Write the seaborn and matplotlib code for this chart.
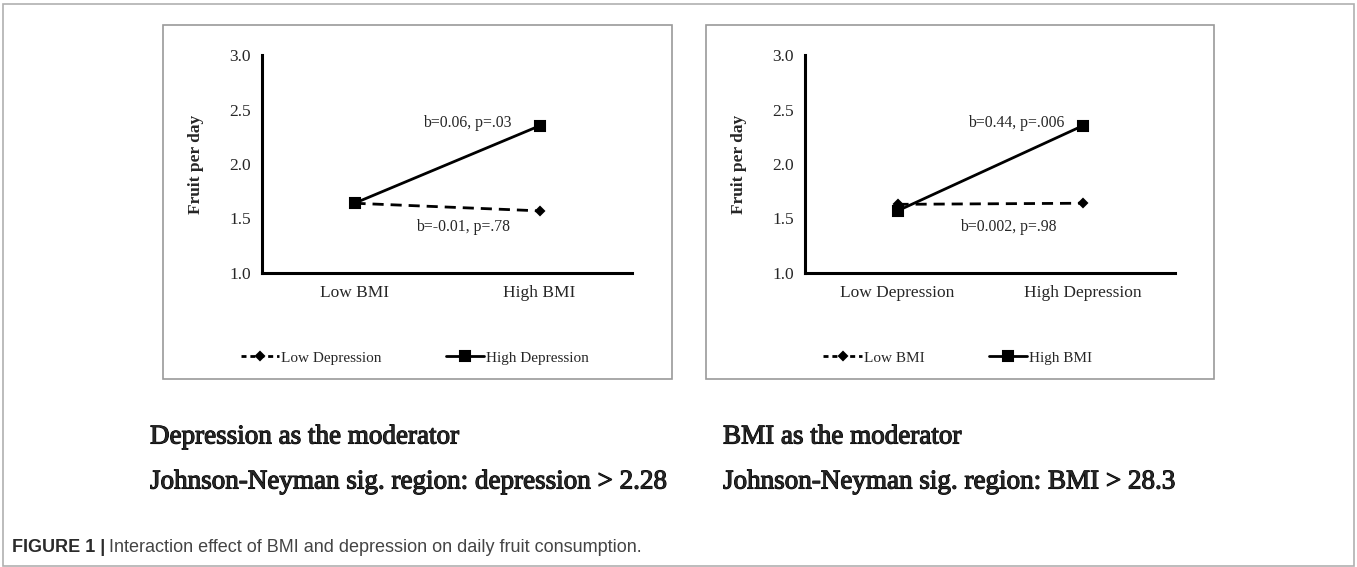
import matplotlib
matplotlib.use("Agg")
import matplotlib.pyplot as plt
import matplotlib.patches as mpatches
import matplotlib.patheffects as pe
import pandas as pd
import seaborn as sns

sns.set_style("white")
plt.rcParams["font.family"] = ["Liberation Serif", "DejaVu Serif"]

# --- values
bmi_levels = ["Low BMI", "High BMI"]
dep_levels = ["Low Depression", "High Depression"]

# left panel: x = BMI level, lines = depression level
fruit_low_dep = [1.64, 1.57]
fruit_high_dep = [1.64, 2.35]

# right panel: x = depression level, lines = BMI level
fruit_low_bmi = [1.63, 1.64]
fruit_high_bmi = [1.57, 2.35]

left_notes = ["b=0.06, p=.03", "b=-0.01, p=.78"]
right_notes = ["b=0.44, p=.006", "b=0.002, p=.98"]
yticks = [1.0, 1.5, 2.0, 2.5, 3.0]

left_df = pd.DataFrame({
    "x": bmi_levels * 2,
    "fruit": fruit_low_dep + fruit_high_dep,
    "line": [dep_levels[0]] * 2 + [dep_levels[1]] * 2,
})
right_df = pd.DataFrame({
    "x": dep_levels * 2,
    "fruit": fruit_low_bmi + fruit_high_bmi,
    "line": [bmi_levels[0]] * 2 + [bmi_levels[1]] * 2,
})

W, H = 1357, 567
fig = plt.figure(figsize=(W / 100, H / 100), dpi=100)


def px_rect(x0, y0, x1, y1):
    # pixel box (top-left origin) -> figure fraction [l, b, w, h]
    return [x0 / W, 1 - y1 / H, (x1 - x0) / W, (y1 - y0) / H]


# outer frame and the two chart frames
for x0, y0, x1, y1, col in [(3, 4, 1354, 566, "#b0b0b0"),
                            (163, 25, 672, 379, "#9a9a9a"),
                            (706, 25, 1214, 379, "#9a9a9a")]:
    l, b, w, h = px_rect(x0, y0, x1, y1)
    fig.patches.append(mpatches.Rectangle((l, b), w, h, transform=fig.transFigure,
                                          fill=False, edgecolor=col, linewidth=1.2))


def restyle(line, dashes=(4, 2.5)):
    # Excel-like marks: small diamonds, slightly bigger squares, long dashes
    if line.get_marker() == "D":
        line.set_markersize(4.5)
        line.set_dashes(dashes)
    elif line.get_marker() == "s":
        line.set_markersize(6.5)


def draw_panel(ax, df, x_order, hue_order, notes, note_pos, legend_x):
    sns.pointplot(data=df, x="x", y="fruit", hue="line", order=x_order,
                  hue_order=hue_order, palette=["black", "black"],
                  markers=["D", "s"], linestyles=["--", "-"],
                  errorbar=None, ax=ax, markersize=6, linewidth=2)
    for ln in ax.lines:
        restyle(ln)
    ax.set_xlim(-0.5, 1.5)
    ax.set_ylim(1.0, 3.0)
    ax.set_yticks(yticks)
    ax.set_yticklabels([f"{v:.1f}" for v in yticks], fontsize=12.5)
    ax.set_xticks([0, 1])
    ax.set_xticklabels(x_order, fontsize=12.5)
    ax.set_xticks([-0.5, 0.5, 1.5], minor=True)
    ax.tick_params(axis="x", which="major", length=0, pad=9)
    ax.tick_params(axis="x", which="minor", length=5, width=1.8,
                   direction="out", color="black")
    ax.tick_params(axis="y", length=5, width=1.8, direction="out",
                   color="black", pad=3)
    for side in ["top", "right"]:
        ax.spines[side].set_visible(False)
    for side in ["left", "bottom"]:
        ax.spines[side].set_color("black")
        ax.spines[side].set_linewidth(2.2)
    ax.set_xlabel("")
    ax.set_ylabel("Fruit per day", fontsize=12.5, fontweight="bold", labelpad=18)
    ax.patch.set_alpha(0)

    for txt, (tx, ty) in zip(notes, note_pos):
        ax.text(tx, ty, txt, ha="left", va="center", fontsize=11.3)

    handles, labels = ax.get_legend_handles_labels()
    ax.get_legend().remove()
    for h in handles:
        restyle(h, dashes=(1.8, 1.4))
    fig.legend(handles, labels, loc="center", ncol=2, frameon=False,
               bbox_to_anchor=(legend_x / W, 1 - 358 / H), fontsize=11,
               handlelength=2.5, handletextpad=0.15, columnspacing=4.2)


ax_l = fig.add_axes(px_rect(262, 55, 632, 273))
draw_panel(ax_l, left_df, bmi_levels, dep_levels, left_notes,
           [(0.37, 2.38), (0.33, 1.42)], 415)

ax_r = fig.add_axes(px_rect(805, 55, 1175, 273))
draw_panel(ax_r, right_df, dep_levels, bmi_levels, right_notes,
           [(0.38, 2.38), (0.34, 1.42)], 958)

# moderator notes under the panels (heavy Times look)
heavy = [pe.withStroke(linewidth=0.8, foreground="black")]
for x0, lines in [(150, ["Depression as the moderator",
                         "Johnson-Neyman sig. region: depression > 2.28"]),
                  (723, ["BMI as the moderator",
                         "Johnson-Neyman sig. region: BMI > 28.3"])]:
    for y0, txt in zip([437, 482], lines):
        fig.text(x0 / W, 1 - y0 / H, txt, fontsize=19.5, va="center",
                 path_effects=heavy)

# caption: bold "FIGURE 1 |" followed by regular text
cap = fig.text(12 / W, 1 - 548 / H, "FIGURE 1 |", fontsize=13,
               fontweight="bold", family="Liberation Sans", color="#2b2b2b",
               va="center")
fig.canvas.draw()
bb = cap.get_window_extent(fig.canvas.get_renderer())
fig.text((bb.x1 + 4) / W, 1 - 548 / H,
         "Interaction effect of BMI and depression on daily fruit consumption.",
         fontsize=13, family="Liberation Sans", color="#444444", va="center")

fig.savefig("out.png", dpi=100)
